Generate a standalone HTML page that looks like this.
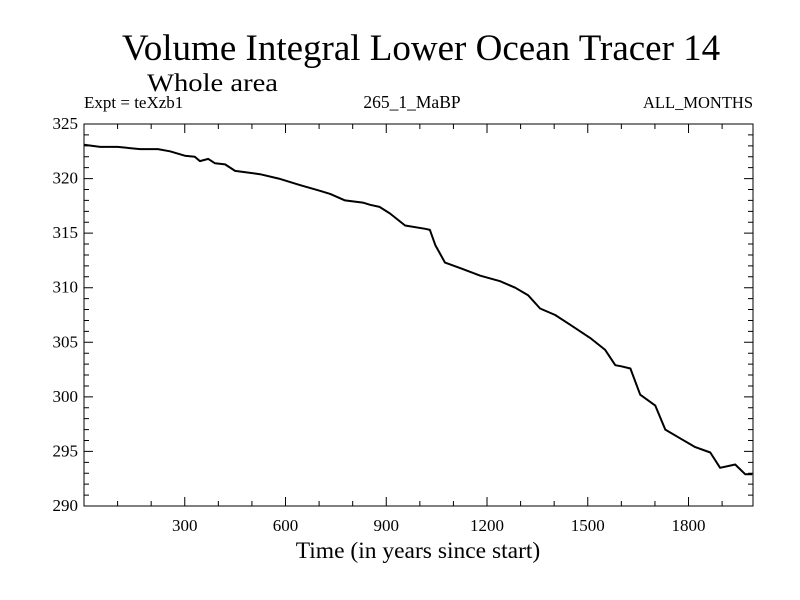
<!DOCTYPE html>
<html><head><meta charset="utf-8"><style>
body{margin:0;background:#fff}
svg{display:block;font-family:"Liberation Serif",serif}
</style></head><body>
<svg id="chart" width="800" height="600" viewBox="0 0 800 600">
<text x="421" y="60" text-anchor="middle" font-size="37">Volume Integral Lower Ocean Tracer 14</text>
<text x="147" y="91" font-size="25" textLength="131" lengthAdjust="spacingAndGlyphs">Whole area</text>
<text x="84" y="108" font-size="17">Expt = teXzb1</text>
<text x="412" y="108" text-anchor="middle" font-size="17.5">265_1_MaBP</text>
<text x="753" y="108" text-anchor="end" font-size="16.5">ALL_MONTHS</text>
<text x="418" y="558" text-anchor="middle" font-size="23.5">Time (in years since start)</text>
<g id="axes"></g>
<g id="series"></g>
</svg>
<script>
const xTicks=[300,600,900,1200,1500,1800];
const yTicks=[290,295,300,305,310,315,320,325];
const years=[0,48,100,167,220,256,300,330,345,370,390,420,450,524,580,643,700,733,777,830,852,880,911,956,1016,1030,1046,1075,1120,1180,1239,1284,1323,1358,1403,1448,1507,1552,1582,1600,1627,1656,1701,1731,1775,1820,1865,1894,1939,1969,1990];
const values=[323.1,322.9,322.9,322.7,322.7,322.5,322.1,322.0,321.6,321.8,321.4,321.3,320.7,320.4,320.0,319.4,318.9,318.6,318.0,317.8,317.6,317.4,316.8,315.7,315.4,315.3,313.9,312.3,311.8,311.1,310.6,310.0,309.3,308.1,307.5,306.6,305.4,304.3,302.9,302.8,302.6,300.2,299.2,297.0,296.2,295.4,294.9,293.5,293.8,292.9,292.9];
const X0=84,X1=753,Y0=506,Y1=124,xmin=0,xmax=1992,ymin=290,ymax=325;
const sx=v=>X0+(v-xmin)/(xmax-xmin)*(X1-X0);
const sy=v=>Y0-(v-ymin)/(ymax-ymin)*(Y0-Y1);
const NS="http://www.w3.org/2000/svg";
const axes=document.getElementById('axes');
function mk(t,a,p){const e=document.createElementNS(NS,t);for(const k in a)e.setAttribute(k,a[k]);p.appendChild(e);return e;}
const fr=mk('rect',{x:X0,y:Y1,width:X1-X0,height:Y0-Y1,fill:'none',stroke:'#000','stroke-width':1},axes);


let d='';
for(let v=100;v<xmax;v+=100){const L=(v%300===0)?9:5;const x=sx(v);d+=`M${x},${Y0}v${-L}M${x},${Y1}v${L}`;}
for(let v=ymin+1;v<ymax;v++){const L=(v%5===0)?9:5;const y=sy(v);d+=`M${X0},${y}h${L}M${X1},${y}h${-L}`;}
const tk=mk('path',{d:d,stroke:'#000','stroke-width':1,fill:'none'},axes);


xTicks.forEach(v=>{const t=mk('text',{x:sx(v),y:531,'text-anchor':'middle','font-size':17},axes);t.textContent=v;

});
yTicks.forEach(v=>{const t=mk('text',{x:78,y:sy(v)+5,'text-anchor':'end','font-size':17},axes);t.textContent=v;

});
const pts=years.map((y,i)=>sx(y).toFixed(1)+','+sy(values[i]).toFixed(1)).join(' ');
const ln=mk('polyline',{points:pts,fill:'none',stroke:'#000','stroke-width':2,'stroke-linejoin':'round'},document.getElementById('series'));


</script>
</body></html>
